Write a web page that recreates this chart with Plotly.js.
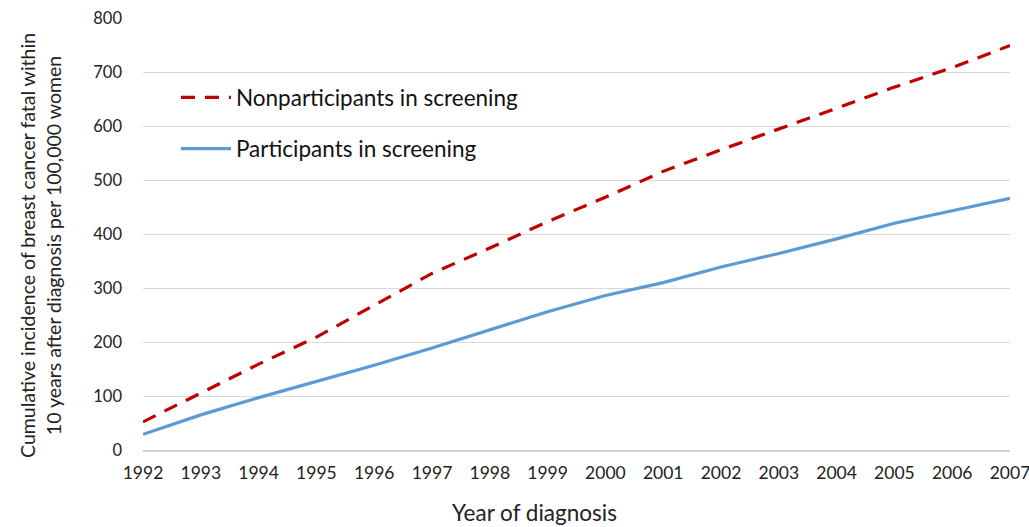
<!DOCTYPE html>
<html>
<head>
<meta charset="utf-8">
<script src="https://cdn.plot.ly/plotly-3.0.1.min.js"></script>
<style>html,body{margin:0;padding:0;background:#fff;}#chart{width:1029px;height:527px;}</style>
</head>
<body>
<div id="chart"></div>
<script>
const years = [1992,1993,1994,1995,1996,1997,1998,1999,2000,2001,2002,2003,2004,2005,2006,2007];
const nonparticipants = [52,105,159,209,268,327,374,423,468,516,556,594,633,672,708,749];
const participants = [29,65,97,127,157,189,222,256,286,310,339,364,391,420,443,466];
const yTicks = [0,100,200,300,400,500,600,700,800];
const xTitle = 'Year of diagnosis';
const yTitle = 'Cumulative incidence of breast cancer fatal within<br>10 years after diagnosis per 100,000 women';

const fontFamily = 'Lato, "Open Sans", sans-serif';

const traces = [
  {
    x: years, y: nonparticipants, type: 'scatter', mode: 'lines',
    name: 'Nonparticipants in screening', legendgroup: 'a',
    line: {color: '#c00000', width: 3.2, dash: '14px,10px'}
  },
  {
    x: years, y: participants, type: 'scatter', mode: 'lines',
    name: 'Participants in screening', legendgroup: 'b',
    line: {color: '#5b9bd5', width: 3.2}
  }
];

const layout = {
  width: 1029, height: 527,
  margin: {l: 143, r: 19, t: 18, b: 77},
  paper_bgcolor: '#ffffff', plot_bgcolor: '#ffffff',
  font: {family: fontFamily, color: '#222222', size: 17},
  showlegend: true,
  legend: {
    x: 0.038, y: 0.865, xanchor: 'left', yanchor: 'top',
    bgcolor: 'rgba(0,0,0,0)',
    font: {size: 22.5, family: fontFamily, color: '#111111'},
    traceorder: 'grouped', tracegroupgap: 19,
    itemwidth: 50
  },
  xaxis: {
    range: [1992, 2007],
    tickmode: 'array', tickvals: years, ticktext: years.map(String),
    showgrid: false, zeroline: false,
    showline: true, linecolor: '#d0d0d0', linewidth: 1.5,
    ticks: '', tickfont: {size: 17.5},
    ticklabelstandoff: 6,
    ticklabeloverflow: 'allow'
  },
  yaxis: {
    range: [0, 800],
    tickmode: 'array', tickvals: yTicks,
    showgrid: true, gridcolor: '#d9d9d9', gridwidth: 1,
    zeroline: false, showline: false, ticks: '',
    tickfont: {size: 16.5},
    ticklabelstandoff: 20
  },
  annotations: [
    {text: xTitle, xref: 'paper', yref: 'paper', x: 0.451, y: -0.108, xanchor: 'center', yanchor: 'top',
     showarrow: false, font: {size: 22.5, family: fontFamily, color: '#222222'}},
    {text: yTitle, xref: 'paper', yref: 'paper', x: -0.118, y: 0.474, xanchor: 'center', yanchor: 'middle',
     textangle: -90, showarrow: false, font: {size: 19.5, family: fontFamily, color: '#222222'}}
  ]
};

Plotly.newPlot('chart', traces, layout, {displayModeBar: false, staticPlot: true});
</script>
</body>
</html>
